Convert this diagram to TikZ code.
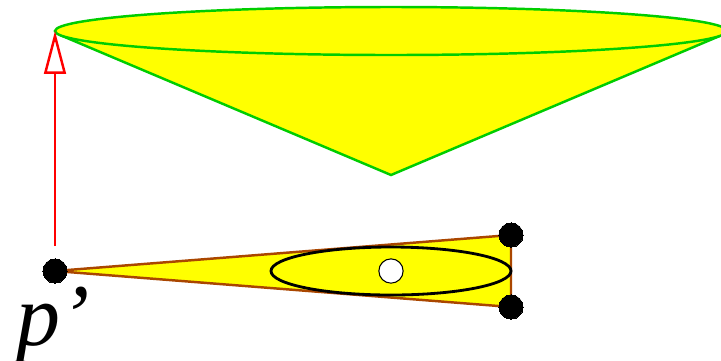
\documentclass[tikz,border=0pt]{standalone}
\usepackage{fontspec}
\setmainfont{Liberation Serif}
\usetikzlibrary{arrows.meta}
\definecolor{coneyellow}{RGB}{255,255,0}
\definecolor{conegreen}{RGB}{0,205,0}
\definecolor{edgebrown}{RGB}{170,70,0}
\definecolor{liftred}{RGB}{255,0,0}
\tikzset{
  dot/.style={circle,fill=black,draw=black,inner sep=0pt,minimum size=6.9pt,line width=0pt},
  hole/.style={circle,fill=white,draw=black,inner sep=0pt,minimum size=6.9pt,line width=0.3pt},
  lift/.style={liftred,line width=0.7pt,-{Triangle[open,length=12.2pt,width=6.2pt,line width=0.7pt]}}
}
\begin{document}
\begin{tikzpicture}[x=0.01cm,y=-0.01cm]
\useasboundingbox (0,0) rectangle (721,360);
% cone above
\coordinate (apex) at (391,175);
\coordinate (coneleft) at (60,35);
\coordinate (coneright) at (722,35);
\filldraw [fill=coneyellow, draw=conegreen, line width=0.7pt] (coneleft) -- (apex) -- (coneright);
\filldraw [fill=coneyellow, draw=conegreen, line width=0.7pt] (391,31) ellipse (336 and 24);
% triangle below
\coordinate (pp) at (55,271);
\coordinate (top) at (511,235);
\coordinate (bot) at (511,307);
\filldraw [fill=coneyellow, draw=edgebrown, line width=0.7pt] (pp) -- (top) -- (bot) -- cycle;
\node [dot] (ppdot) at (pp) {};
\node [dot] (topdot) at (top) {};
\node [dot] (botdot) at (bot) {};
\draw [black, line width=0.8pt] (391,271) ellipse (120 and 24);
\node [hole] (mid) at (391,271) {};
% lift arrow
\coordinate (start) at (55,246);
\coordinate (end) at (55,31);
\draw [lift] (start) -- (end);
\node [anchor=base west, inner sep=0pt, font=\fontsize{25}{25}\selectfont\itshape] (label) at (16,345) {p’};
\end{tikzpicture}
\end{document}
